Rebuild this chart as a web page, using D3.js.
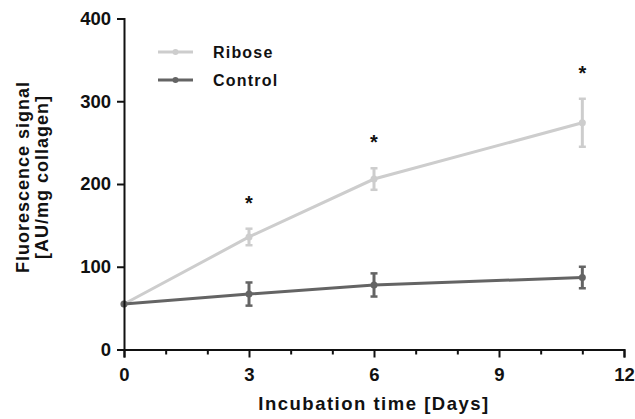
<!DOCTYPE html>
<html>
<head>
<meta charset="utf-8">
<script src="https://cdn.jsdelivr.net/npm/d3@7"></script>
<style>
  body { margin: 0; background: #fff; }
  text { font-family: "Liberation Sans", Arial, sans-serif; font-weight: bold; }
</style>
</head>
<body>
<div id="chart"></div>
<script>
// Datos
const days = [0, 3, 6, 11];
const riboseMean = [55, 136, 206, 274];
const riboseErr = [0, 10, 13, 29];
const controlMean = [55, 67, 78, 87];
const controlErr = [0, 14, 14, 13];
const significant = [false, true, true, true];

const xTicks = [0, 3, 6, 9, 12];
const xMinor = [1, 2, 4, 5, 7, 8, 10, 11];
const yTicks = [0, 100, 200, 300, 400];

const seriesNames = ["Ribose", "Control"];
const colors = { Ribose: "#cdcdcd", Control: "#646464" };

const width = 635;
const height = 419;
const margin = { top: 18.5, right: 11, bottom: 69.5, left: 124 };

const x = d3.scaleLinear()
    .domain([0, 12])
    .range([margin.left, width - margin.right]);

const y = d3.scaleLinear()
    .domain([0, 400])
    .range([height - margin.bottom, margin.top]);

const svg = d3.select("#chart").append("svg")
    .attr("width", width)
    .attr("height", height);

// Series
const series = [
    { name: "Ribose", mean: riboseMean, err: riboseErr },
    { name: "Control", mean: controlMean, err: controlErr }
];

const line = d3.line()
    .x(d => x(d.day))
    .y(d => y(d.v));

series.forEach(s => {
    const pts = days.map((d, i) => ({ day: d, v: s.mean[i], e: s.err[i] }));
    const color = colors[s.name];
    const g = svg.append("g");

    g.append("path")
        .datum(pts)
        .attr("d", line)
        .attr("fill", "none")
        .attr("stroke", color)
        .attr("stroke-width", 3);

    const eb = g.selectAll(".err")
        .data(pts.filter(p => p.e > 0))
        .enter().append("g");

    eb.append("line")
        .attr("x1", d => x(d.day)).attr("x2", d => x(d.day))
        .attr("y1", d => y(d.v - d.e)).attr("y2", d => y(d.v + d.e))
        .attr("stroke", color).attr("stroke-width", 3);

    [1, -1].forEach(sign => {
        eb.append("line")
            .attr("x1", d => x(d.day) - 3.5).attr("x2", d => x(d.day) + 3.5)
            .attr("y1", d => y(d.v + sign * d.e)).attr("y2", d => y(d.v + sign * d.e))
            .attr("stroke", color).attr("stroke-width", 2.5);
    });

    g.selectAll("circle")
        .data(pts)
        .enter().append("circle")
        .attr("cx", d => x(d.day))
        .attr("cy", d => y(d.v))
        .attr("r", 3.5)
        .attr("fill", color);
});

// Asteriscos de significancia
svg.selectAll(".star")
    .data(days.map((d, i) => ({ day: d, top: riboseMean[i] + riboseErr[i], sig: significant[i] })).filter(d => d.sig))
    .enter().append("text")
    .attr("x", d => x(d.day))
    .attr("y", d => y(d.top) - 30 + 11)
    .attr("text-anchor", "middle")
    .style("font-size", "20px")
    .attr("fill", "#111")
    .text("*");

// Ejes
const xAxis = svg.append("g")
    .attr("transform", `translate(0,${y(0)})`)
    .call(d3.axisBottom(x).tickValues(xTicks).tickSize(8).tickPadding(6).tickFormat(d3.format("d")));

svg.append("g")
    .attr("transform", `translate(0,${y(0)})`)
    .call(d3.axisBottom(x).tickValues(xMinor).tickSize(5).tickFormat(""))
    .call(g => g.select(".domain").remove());

const yAxis = svg.append("g")
    .attr("transform", `translate(${x(0)},0)`)
    .call(d3.axisLeft(y).tickValues(yTicks).tickSize(7).tickPadding(6).tickFormat(d3.format("d")));

svg.selectAll(".domain").attr("stroke", "#111").attr("stroke-width", 2);
svg.selectAll(".tick line").attr("stroke", "#111").attr("stroke-width", 2);
svg.selectAll(".tick text")
    .attr("fill", "#111")
    .style("font-size", "18.5px")
    .style("font-family", "'Liberation Sans', Arial, sans-serif")
    .style("font-weight", "bold");
xAxis.selectAll(".tick text").attr("dy", "0.95em");

// Títulos de ejes
svg.append("text")
    .attr("x", (x(0) + x(12)) / 2)
    .attr("y", 410)
    .attr("text-anchor", "middle")
    .style("font-size", "18.5px")
    .style("letter-spacing", "1.5px")
    .attr("fill", "#111")
    .text("Incubation time [Days]");

const yTitle = svg.append("text")
    .attr("transform", "translate(0,177) rotate(-90)")
    .attr("text-anchor", "middle")
    .style("font-size", "18px")
    .style("letter-spacing", "1px")
    .attr("fill", "#111");
yTitle.append("tspan").attr("x", 0).attr("y", 29).text("Fluorescence signal");
yTitle.append("tspan").attr("x", 0).attr("y", 48).text("[AU/mg collagen]");

// Leyenda
const legend = svg.selectAll(".legend")
    .data(seriesNames)
    .enter().append("g")
    .attr("transform", (d, i) => `translate(158,${52 + i * 28})`);

legend.append("line")
    .attr("x1", 0).attr("x2", 35)
    .attr("stroke", d => colors[d])
    .attr("stroke-width", 3);

legend.append("circle")
    .attr("cx", 17.5).attr("r", 3)
    .attr("fill", d => colors[d]);

legend.append("text")
    .attr("x", 55)
    .attr("y", 6)
    .style("font-size", "16px")
    .style("letter-spacing", "1.2px")
    .attr("fill", "#111")
    .text(d => d);
</script>
</body>
</html>
